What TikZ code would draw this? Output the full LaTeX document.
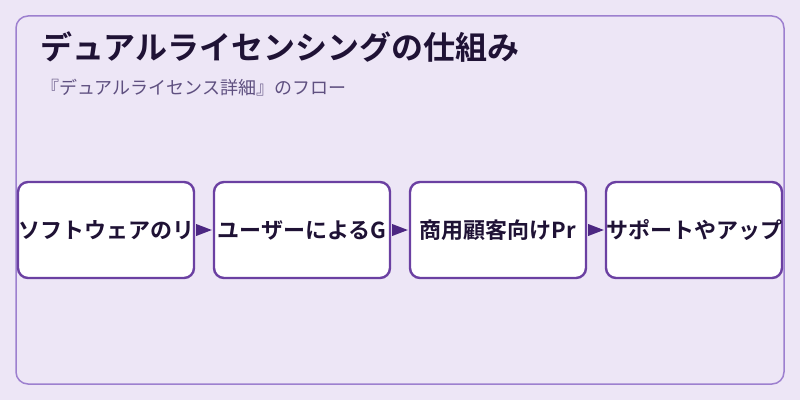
\documentclass[tikz,border=0pt]{standalone}
\usepackage{fontspec}
\setmainfont{Noto Sans CJK JP}[BoldFont={Noto Sans CJK JP Bold}]
\usepackage{xcolor}

\definecolor{pagebg}{HTML}{EDE6F6}
\definecolor{framecol}{HTML}{9D80CF}
\definecolor{boxcol}{HTML}{6B40A2}
\definecolor{tipcol}{HTML}{4C2782}
\definecolor{inkcol}{HTML}{1F1235}
\definecolor{subcol}{HTML}{5F5080}

\begin{document}
\begin{tikzpicture}[x=1pt,y=1pt,
    stepbox/.style={draw=boxcol, line width=2.4pt, fill=white, rounded corners=10pt,
        minimum width=176pt, minimum height=96pt, inner sep=0pt,
        font=\fontsize{22}{24}\selectfont\bfseries, text=inkcol},
    flow/.style={fill=tipcol}]
    % Background and frame
    \fill[pagebg] (0,0) rectangle (800,400);
    \draw[framecol, line width=1.5pt, rounded corners=12pt] (16,16) rectangle (784,384);

    % Title and subtitle
    \node[anchor=west, inner sep=0pt, text=inkcol, font=\fontsize{32}{36}\selectfont\bfseries]
        (title) at (40,353) {デュアルライセンシングの仕組み};
    \node[anchor=west, inner sep=0pt, text=subcol, font=\fontsize{18}{20}\selectfont]
        (subtitle) at (41,312) {『デュアルライセンス詳細』のフロー};

    % Steps
    \node[stepbox] (license) at (106,170) {ソフトウェアのリ};
    \node[stepbox] (usergpl) at (302,170) {ユーザーによるG};
    \node[stepbox] (commerce) at (498,170) {商用顧客向けPr};
    \node[stepbox] (support) at (694,170) {サポートやアップ};

    % Arrows between steps (solid heads, no shaft)
    \foreach \a/\b in {license/usergpl, usergpl/commerce, commerce/support}
        \fill[flow] (\a.east) ++(1,6) -- ++(0,-12) -- ([xshift=-1pt]\b.west) -- cycle;
\end{tikzpicture}
\end{document}
